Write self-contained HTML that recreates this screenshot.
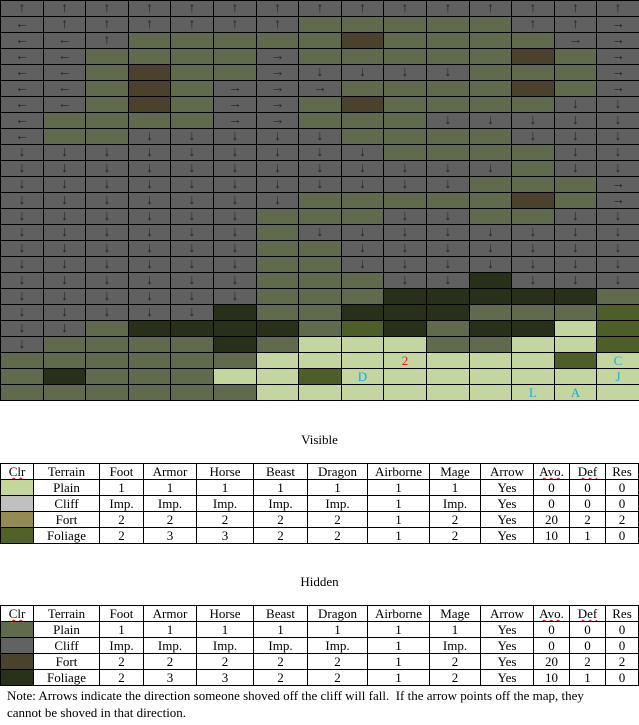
<!DOCTYPE html>
<html><head><meta charset="utf-8"><style>
body{margin:0;width:639px;height:725px;background:#fff;position:relative;overflow:hidden;font-family:"Liberation Serif",serif;}
#grid{position:absolute;left:0;top:0;width:639px;height:401px;background:#000;}
.c{position:absolute;display:flex;align-items:center;justify-content:center;font-size:14px;color:#1c2233;line-height:1;}
.t{position:absolute;left:0;width:639px;text-align:center;font-size:13px;}
table{position:absolute;left:0;border-collapse:collapse;table-layout:fixed;font-size:13px;}
td{border:1px solid #000;height:15px;padding:0;text-align:center;line-height:15px;white-space:nowrap;overflow:hidden;}
.sq{text-decoration:underline wavy red;text-decoration-thickness:1px;}
.note{position:absolute;left:7px;font-size:13px;}
</style></head><body>
<div id="grid"></div>
<div class="t" style="top:432px">Visible</div>
<table style="top:463px">
<colgroup><col style="width:33px"><col style="width:66px"><col style="width:44px"><col style="width:53px"><col style="width:57px"><col style="width:54px"><col style="width:60px"><col style="width:62px"><col style="width:51px"><col style="width:53px"><col style="width:36px"><col style="width:36px"><col style="width:33px"></colgroup>
<tr><td class="sq">Clr</td><td>Terrain</td><td>Foot</td><td>Armor</td><td>Horse</td><td>Beast</td><td>Dragon</td><td>Airborne</td><td>Mage</td><td>Arrow</td><td class="sq">Avo.</td><td class="sq">Def</td><td>Res</td></tr>
<tr><td style="background:#c4d79b"></td><td>Plain</td><td>1</td><td>1</td><td>1</td><td>1</td><td>1</td><td>1</td><td>1</td><td>Yes</td><td>0</td><td>0</td><td>0</td></tr>
<tr><td style="background:#c0c0c0"></td><td>Cliff</td><td>Imp.</td><td>Imp.</td><td>Imp.</td><td>Imp.</td><td>Imp.</td><td>1</td><td>Imp.</td><td>Yes</td><td>0</td><td>0</td><td>0</td></tr>
<tr><td style="background:#948a54"></td><td>Fort</td><td>2</td><td>2</td><td>2</td><td>2</td><td>2</td><td>1</td><td>2</td><td>Yes</td><td>20</td><td>2</td><td>2</td></tr>
<tr><td style="background:#4f6228"></td><td>Foliage</td><td>2</td><td>3</td><td>3</td><td>2</td><td>2</td><td>1</td><td>2</td><td>Yes</td><td>10</td><td>1</td><td>0</td></tr>
</table>
<div class="t" style="top:574px">Hidden</div>
<table style="top:605px">
<colgroup><col style="width:33px"><col style="width:66px"><col style="width:44px"><col style="width:53px"><col style="width:57px"><col style="width:54px"><col style="width:60px"><col style="width:62px"><col style="width:51px"><col style="width:53px"><col style="width:36px"><col style="width:36px"><col style="width:33px"></colgroup>
<tr><td class="sq">Clr</td><td>Terrain</td><td>Foot</td><td>Armor</td><td>Horse</td><td>Beast</td><td>Dragon</td><td>Airborne</td><td>Mage</td><td>Arrow</td><td class="sq">Avo.</td><td class="sq">Def</td><td>Res</td></tr>
<tr><td style="background:#5f6b4c"></td><td>Plain</td><td>1</td><td>1</td><td>1</td><td>1</td><td>1</td><td>1</td><td>1</td><td>Yes</td><td>0</td><td>0</td><td>0</td></tr>
<tr><td style="background:#626262"></td><td>Cliff</td><td>Imp.</td><td>Imp.</td><td>Imp.</td><td>Imp.</td><td>Imp.</td><td>1</td><td>Imp.</td><td>Yes</td><td>0</td><td>0</td><td>0</td></tr>
<tr><td style="background:#4a422c"></td><td>Fort</td><td>2</td><td>2</td><td>2</td><td>2</td><td>2</td><td>1</td><td>2</td><td>Yes</td><td>20</td><td>2</td><td>2</td></tr>
<tr><td style="background:#28311a"></td><td>Foliage</td><td>2</td><td>3</td><td>3</td><td>2</td><td>2</td><td>1</td><td>2</td><td>Yes</td><td>10</td><td>1</td><td>0</td></tr>
</table>
<div class="note" style="top:688px">Note: Arrows indicate the direction someone shoved off the cliff will fall.&nbsp; If the arrow points off the map, they</div>
<div class="note" style="top:705px">cannot be shoved in that direction.</div>
<script>
const mapRows = [
"u u u u u u u u u u u u u u u",
"l u u u u u u o o o o o u u r",
"l l u o o o o o b o o o o r r",
"l l o o o o r o o o o o b o r",
"l l o b o o r d d d d o o o r",
"l l o b o r r r o o o o b o r",
"l l o b o r r o b o o o o d d",
"l o o o o r r o o o d d d d d",
"l o o d d d d d o o o o d d d",
"d d d d d d d d d o o o o d d",
"d d d d d d d d d d d d o d d",
"d d d d d d d d d d d o o o r",
"d d d d d d d o o o o o b o r",
"d d d d d d o o o d d o o d d",
"d d d d d d o d d d d d d d d",
"d d d d d d o o d d d d d d d",
"d d d d d d o o d d d d d d d",
"d d d d d d o o o d d k d d d",
"d d d d d d o o o k k k k k o",
"d d d d d k o o k k k o o o f",
"d d o k k k k o f k o k k p f",
"d o o o o k o p p p o o p p f",
"o o o o o o p p p p p p p f p",
"o k o o o p p f p p p p p p p",
"o o o o o o p p p p p p p p p"];
const labels = [[22,9,"2","#e02020"],[22,14,"C","#20a8e0"],[23,8,"D","#20a8e0"],[23,14,"J","#20a8e0"],[24,12,"L","#20a8e0"],[24,13,"A","#20a8e0"]];
const fills={u:"#606060",d:"#606060",l:"#606060",r:"#606060",o:"#5f6b4c",b:"#4a422c",k:"#28301a",p:"#c4d69f",f:"#4e5e28"};
const arrows={u:"↑",d:"↓",l:"←",r:"→"};
const grid=document.getElementById('grid');
const cw=639/15, rh=16;
mapRows.forEach((row,r)=>{
  row.split(' ').forEach((t,c)=>{
    const el=document.createElement('div');
    el.className='c';
    
    
    const x0=Math.round(c*cw), x1=Math.round((c+1)*cw);
    el.style.left=(x0+1)+'px'; el.style.top=(r*rh+1)+'px';
    el.style.width=(x1-x0-1)+'px'; el.style.height=(rh-1)+'px';
    el.style.background=fills[t];
    if(arrows[t]) el.textContent=arrows[t];
    grid.appendChild(el);
  });
});
labels.forEach(([r,c,txt,col])=>{
  const el=grid.children[r*15+c];
  el.textContent=txt; el.style.color=col; el.style.fontSize='13px';
});
</script>
</body></html>
